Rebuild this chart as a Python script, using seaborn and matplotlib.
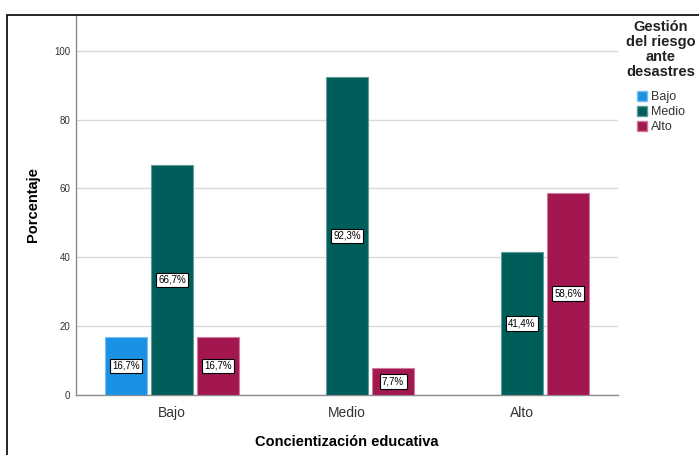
import matplotlib
matplotlib.use("Agg")
import matplotlib.pyplot as plt
import seaborn as sns
import pandas as pd
from matplotlib.patches import Rectangle, Patch

# Data
categories = ["Bajo", "Medio", "Alto"]          # Concientización educativa
hue_levels = ["Bajo", "Medio", "Alto"]          # Gestión del riesgo ante desastres
x_cat = ["Bajo", "Bajo", "Bajo", "Medio", "Medio", "Alto", "Alto"]
hue_cat = ["Bajo", "Medio", "Alto", "Medio", "Alto", "Medio", "Alto"]
percent = [16.7, 66.7, 16.7, 92.3, 7.7, 41.4, 58.6]
yticks = [0, 20, 40, 60, 80, 100]
legend_title = "Gestión\ndel riesgo\nante\ndesastres"

colors = {"Bajo": "#1b91e4", "Medio": "#005e5a", "Alto": "#a2174f"}
edges = {"Bajo": "#7cc0f0", "Medio": "#5f9d9a", "Alto": "#cf7a9b"}

df = pd.DataFrame({"cat": x_cat, "hue": hue_cat, "pct": percent})

sns.set_theme(style="white")
plt.rcParams['font.family'] = ['Liberation Sans', 'DejaVu Sans']

fig = plt.figure(figsize=(6.99, 4.55), dpi=100)
ax = fig.add_axes([76/699, 1-394.7/455, (618-76)/699, (394.7-15)/455])

sns.barplot(data=df, x="cat", y="pct", hue="hue", order=categories,
            hue_order=hue_levels, palette=colors, width=0.79, gap=0.1,
            ax=ax, legend=False, errorbar=None, saturation=1, zorder=3)

for bar_container, lvl in zip(ax.containers, hue_levels):
    for b in bar_container:
        b.set_edgecolor(edges[lvl])
        b.set_linewidth(0.8)
        h = b.get_height()
        if h is None or h != h or h <= 0:
            continue
        ax.text(b.get_x() + b.get_width()/2, h/2,
                f"{h:.1f}%".replace(".", ","), ha="center", va="center",
                fontsize=7, color="black", zorder=5,
                bbox=dict(boxstyle="square,pad=0.25", fc="white", ec="black", lw=0.8))

ax.set_ylim(0, 110.4)
ax.set_xlim(-0.55, 2.55)
ax.set_yticks(yticks)
ax.set_yticklabels([str(t) for t in yticks], fontsize=7, color="#333333")
ax.tick_params(axis="y", length=0, pad=4)
ax.tick_params(axis="x", length=0, pad=8, labelsize=10, labelcolor="#333333")
ax.yaxis.grid(True, color="#d9d9d9", lw=1, zorder=0)
ax.set_axisbelow(True)
for s in ["top", "right"]:
    ax.spines[s].set_visible(False)
for s in ["left", "bottom"]:
    ax.spines[s].set_color("#8c8c8c")
    ax.spines[s].set_linewidth(1)

ax.set_xlabel("Concientización educativa", fontsize=10.5, fontweight="bold", labelpad=11, color="black")
ax.set_ylabel("Porcentaje", fontsize=10.5, fontweight="bold", labelpad=10, color="black")

# Legend title as centered text
fig.text(661/699, 1-20/455, legend_title, ha="center", va="top", fontsize=10.5,
         fontweight="bold", color="#222222", linespacing=1.1, multialignment="center")

handles = [Patch(facecolor=colors[l], edgecolor=edges[l], label=l) for l in hue_levels]
leg = fig.legend(handles=handles, loc="upper left", bbox_to_anchor=(628/699, 1-82/455),
                 frameon=False, fontsize=9, handlelength=0.85, handleheight=0.9,
                 handletextpad=0.3, labelspacing=0.2, borderpad=0.2)
for t in leg.get_texts():
    t.set_color("#333333")

fig.patches.append(Rectangle((7/699, -0.1), 1.2, 1.1 - 15/455, transform=fig.transFigure,
                             fill=False, ec="black", lw=1.2, zorder=10))

fig.savefig("out.png", dpi=100)
